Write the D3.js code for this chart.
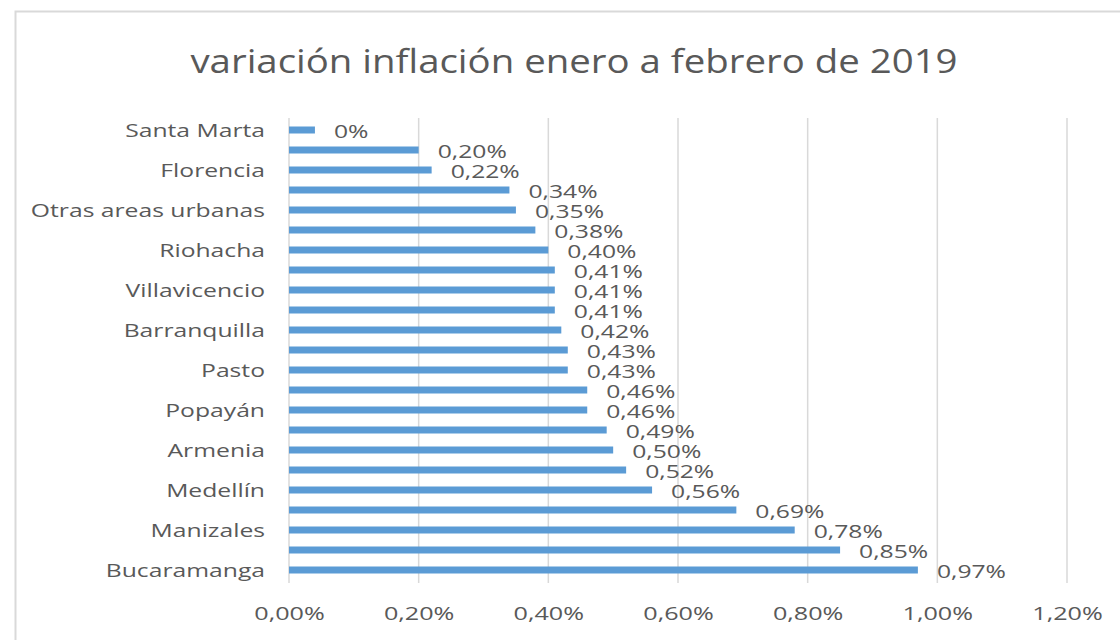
<!DOCTYPE html>
<html>
<head>
<meta charset="utf-8">
<script src="https://cdn.jsdelivr.net/npm/d3@7"></script>
<style>
  html, body { margin: 0; padding: 0; background: #fff; }
  svg { display: block; }
  text { font-family: "Open Sans", "Noto Sans", sans-serif; fill: #595959; }
</style>
</head>
<body>
<svg id="chart" width="1120" height="640"></svg>
<script>
// ---- data (top to bottom) ----
const titleText = "variación inflación enero a febrero de 2019";
const categories = [
  "Santa Marta", "Cúcuta", "Florencia ", "Sincelejo", "Otras areas urbanas",
  "Valledupar", "Riohacha", "Montería", "Villavicencio", "Cartagena",
  "Barranquilla", "Neiva", "Pasto", "Ibagué", "Popayán", "Tunja",
  "Armenia", "Quibdó", "Medellín", "Cali", "Manizales", "Bogotá D.C.",
  "Bucaramanga"
];
const values = [
  0.04, 0.20, 0.22, 0.34, 0.35, 0.38, 0.40, 0.41, 0.41, 0.41, 0.42, 0.43,
  0.43, 0.46, 0.46, 0.49, 0.50, 0.52, 0.56, 0.69, 0.78, 0.85, 0.97
];
const valueLabels = [
  "0%", "0,20%", "0,22%", "0,34%", "0,35%", "0,38%", "0,40%", "0,41%",
  "0,41%", "0,41%", "0,42%", "0,43%", "0,43%", "0,46%", "0,46%", "0,49%",
  "0,50%", "0,52%", "0,56%", "0,69%", "0,78%", "0,85%", "0,97%"
];
const xTicks = [0, 0.2, 0.4, 0.6, 0.8, 1.0, 1.2];
const xTickLabels = ["0,00%", "0,20%", "0,40%", "0,60%", "0,80%", "1,00%", "1,20%"];

// ---- layout ----
const svg = d3.select("#chart");
const plot = { left: 289, right: 1067, top: 120, bottom: 580 };

const x = d3.scaleLinear().domain([0, 1.2]).range([plot.left, plot.right]);
const y = d3.scaleBand().domain(categories)
  .range([plot.top, plot.bottom]).paddingInner(0.65).paddingOuter(0.325);

// chart border
svg.append("path")
  .attr("d", "M15.5,640 L15.5,11.5 L1120,11.5")
  .attr("fill", "none").attr("stroke", "#d9d9d9").attr("stroke-width", 2);

function sText(g, tx, ty, str, size, anchor, stretch) {
  return g.append("text")
    .attr("transform", `translate(${tx},${ty}) scale(${stretch},1)`)
    .attr("text-anchor", anchor)
    .attr("dy", "0.35em")
    .style("font-size", size + "px")
    .text(str);
}

// title
sText(svg, 574, 62, titleText, 32, "middle", 1.2);

// gridlines
const grid = svg.append("g");
grid.selectAll("line").data(xTicks).join("line")
  .attr("x1", d => x(d)).attr("x2", d => x(d))
  .attr("y1", plot.top - 2).attr("y2", plot.bottom + 3)
  .attr("stroke", "#d9d9d9").attr("stroke-width", 1.5);

// x axis tick labels via d3 axis
const xAxis = d3.axisBottom(x).tickValues(xTicks)
  .tickFormat((d, i) => xTickLabels[i]).tickSize(0).tickPadding(0);
const xg = svg.append("g").attr("transform", `translate(0,${plot.bottom + 34})`).call(xAxis);
xg.select(".domain").remove();
xg.selectAll("text").each(function() {
  const t = d3.select(this);
  const txt = t.text();
  const tick = d3.select(this.parentNode);
  t.remove();
  sText(tick, 0, 0, txt, 18, "middle", 1.4);
});

// y axis labels (every other category)
const yAxis = d3.axisLeft(y).tickSize(0).tickPadding(0)
  .tickFormat((d, i) => i % 2 === 0 ? d : "");
const yg = svg.append("g").attr("transform", `translate(${plot.left - 24},0)`).call(yAxis);
yg.select(".domain").remove();
yg.selectAll("text").each(function() {
  const t = d3.select(this);
  const txt = t.text();
  const tick = d3.select(this.parentNode);
  t.remove();
  if (txt) sText(tick, 0, 0, txt, 19, "end", 1.3);
});

// bars
svg.append("g").selectAll("rect").data(values).join("rect")
  .attr("x", x(0))
  .attr("y", (d, i) => y(categories[i]))
  .attr("width", d => x(d) - x(0))
  .attr("height", y.bandwidth())
  .attr("fill", "#5b9bd5");

// data labels
const lg = svg.append("g");
values.forEach((v, i) => {
  sText(lg, x(v) + 19, y(categories[i]) + y.bandwidth() / 2 + 1, valueLabels[i], 19, "start", 1.3);
});
</script>
</body>
</html>
